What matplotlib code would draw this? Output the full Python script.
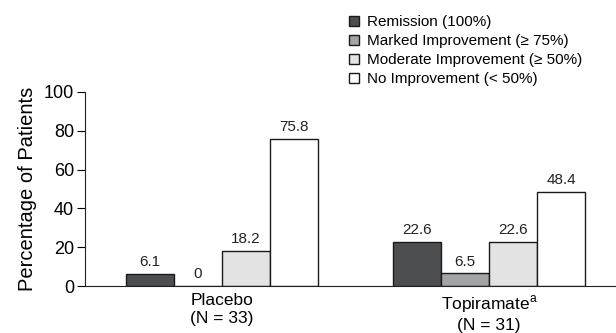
import matplotlib
matplotlib.use("Agg")
import matplotlib.pyplot as plt
import numpy as np

plt.rcParams['font.family'] = ['Liberation Sans', 'DejaVu Sans']
plt.rcParams['mathtext.fontset'] = 'custom'
plt.rcParams['mathtext.rm'] = 'Liberation Sans'

# -----------------------------
# Data
# -----------------------------
groups = ["Placebo\n(N = 33)", "Topiramate$^{\\mathrm{a}}$\n(N = 31)"]
categories = ["Remission (100%)", "Marked Improvement (\u2265 75%)",
              "Moderate Improvement (\u2265 50%)", "No Improvement (< 50%)"]
remission = [6.1, 22.6]
marked = [0, 6.5]
moderate = [18.2, 22.6]
none_ = [75.8, 48.4]
series = [remission, marked, moderate, none_]
colors = ["#4d4e50", "#a3a4a6", "#e3e3e3", "#ffffff"]

# -----------------------------
# Plot
# -----------------------------
fig = plt.figure(figsize=(6.16, 3.33), dpi=100)
ax = fig.add_axes([0.138, 0.141, 0.862, 0.583])

x = np.arange(len(groups))
w = 0.18
handles = []
for i, (vals, c) in enumerate(zip(series, colors)):
    pos = x + (i - 1.5) * w
    bars = ax.bar(pos, vals, width=w, color=c, edgecolor="#1a1a1a", linewidth=1.0)
    handles.append(bars)
    for p, v in zip(pos, vals):
        label = "0" if v == 0 else f"{v:.1f}"
        ax.text(p, v + 2.5, label, ha="center", va="bottom", fontsize=11, color="#222222")

ax.set_xlim(-0.513, 1.476)
ax.set_ylim(0, 100)
ax.set_yticks([0, 20, 40, 60, 80, 100])
ax.set_xticks(x)
ax.set_xticklabels(groups, fontsize=12.5, linespacing=1.25)
ax.tick_params(axis="x", length=0, pad=5)
ax.tick_params(axis="y", labelsize=13, length=6, width=0.8, pad=2)
for s in ["top", "right"]:
    ax.spines[s].set_visible(False)
for s in ["left", "bottom"]:
    ax.spines[s].set_linewidth(0.8)
    ax.spines[s].set_color("#222222")
ax.set_ylabel("Percentage of Patients", fontsize=14.5, labelpad=5)

fig.legend(handles, categories, loc="upper left", bbox_to_anchor=(0.556, 0.972),
           frameon=False, fontsize=11, handlelength=0.65, handleheight=0.65,
           handletextpad=0.55, labelspacing=0.32, borderaxespad=0)

fig.savefig("out.png", dpi=100)
